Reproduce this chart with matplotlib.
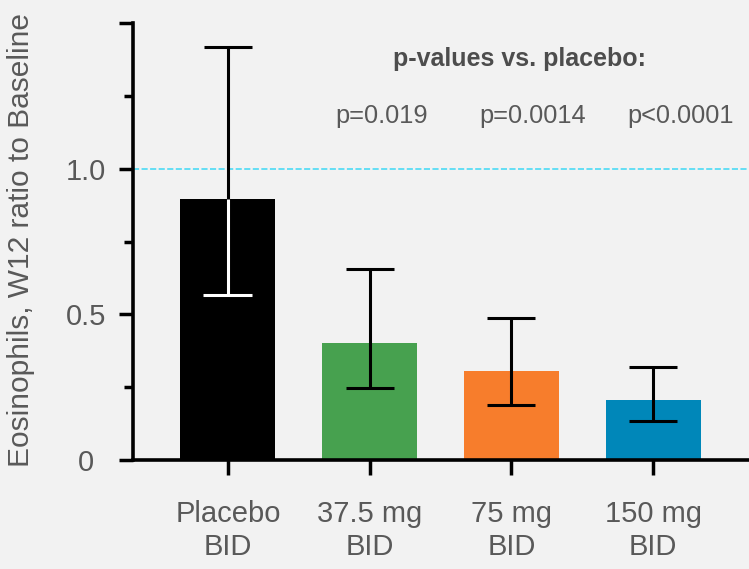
import matplotlib
matplotlib.use("Agg")
import matplotlib.pyplot as plt
from matplotlib.ticker import MultipleLocator

# values
groups = ["Placebo\nBID", "37.5 mg\nBID", "75 mg\nBID", "150 mg\nBID"]
means = [0.895, 0.40, 0.305, 0.205]
err_low = [0.568, 0.247, 0.188, 0.134]
err_high = [1.418, 0.654, 0.486, 0.318]
colors = ["#000000", "#47A14F", "#F77D2C", "#0087B9"]
p_labels = ["p=0.019", "p=0.0014", "p<0.0001"]

GREY = "#595959"
BG = "#F2F2F2"
plt.rcParams["font.family"] = ["Liberation Sans", "DejaVu Sans"]

fig = plt.figure(figsize=(7.49, 5.69), dpi=100, facecolor=BG)
ax = fig.add_axes([133 / 749, 1 - 460 / 569, 1 - 133 / 749, (460 - 23) / 569])
ax.set_facecolor(BG)

x = list(range(len(groups)))
ax.bar(x, means, width=0.67, color=colors, zorder=2)

# full error bars in black, then the placebo part inside the bar in white
yerr = [[m - lo for m, lo in zip(means, err_low)],
        [hi - m for m, hi in zip(means, err_high)]]
ax.errorbar(x, means, yerr=yerr, fmt="none", ecolor="black", elinewidth=2.2,
            capsize=17.5, capthick=2.2, zorder=3)
cap = 0.173
ax.vlines(x[0], err_low[0], means[0], color="white", lw=2.2, zorder=4)
ax.hlines(err_low[0], x[0] - cap, x[0] + cap, color="white", lw=2.2, zorder=4)

ax.axhline(1.0, color="#3DD8F5", lw=1.1, ls=(0, (4, 1.6)), zorder=1)

ax.set_xlim(-0.67, 3.677)
ax.set_ylim(0, 1.5)
ax.set_xticks(x)
ax.set_xticklabels(groups, fontsize=21, color=GREY, linespacing=1.2)
ax.yaxis.set_minor_locator(MultipleLocator(0.25))
ax.set_yticks([0, 0.5, 1.0, 1.5])
ax.set_yticklabels(["0", "0.5", "1.0", ""], fontsize=21, color=GREY)
for label in ax.get_yticklabels():
    label.set_horizontalalignment("center")

ax.tick_params(axis="y", which="major", length=10, width=2.5, pad=24)
ax.tick_params(axis="y", which="minor", length=6.5, width=2.5)
ax.tick_params(axis="x", length=11, width=2.5, pad=18)

for side in ("top", "right"):
    ax.spines[side].set_visible(False)
for side in ("left", "bottom"):
    ax.spines[side].set_linewidth(2.6)
ax.spines["left"].set_bounds(0, 1.5)

fig.text(21 / 749, 1 - 240 / 569, "Eosinophils, W12 ratio to Baseline",
         rotation=90, ha="center", va="center", fontsize=21.5, color=GREY)

ax.text(2.06, 1.377, "p-values vs. placebo:", ha="center", va="center",
        fontsize=18, fontweight="bold", color="#4D4D4D")
for i, label in zip([1.087, 2.15, 3.195], p_labels):
    ax.text(i, 1.18, label, ha="center", va="center", fontsize=18.3, color=GREY)

fig.savefig("out.png", dpi=100, facecolor=BG)
